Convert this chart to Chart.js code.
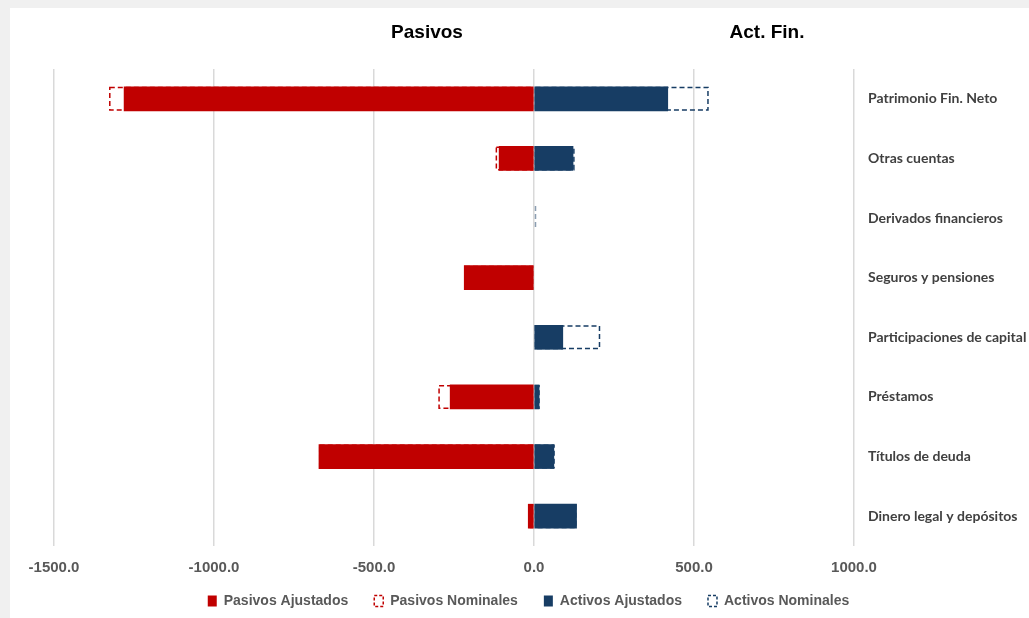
<!DOCTYPE html>
<html>
<head>
<meta charset="utf-8">
<script src="https://cdn.jsdelivr.net/npm/chart.js@4/dist/chart.umd.min.js"></script>
<style>
  html, body { margin: 0; padding: 0; background: #f0f0f0; width: 1029px; height: 618px; overflow: hidden; }
  #wrap { position: absolute; left: 10px; top: 8px; width: 1019px; height: 610px; background: #ffffff; }
  canvas { display: block; }
</style>
</head>
<body>
<div id="wrap"><canvas id="c" width="1019" height="610"></canvas></div>
<script>
const categories = ['Patrimonio Fin. Neto', 'Otras cuentas', 'Derivados financieros', 'Seguros y pensiones',
  'Participaciones de capital', 'Préstamos', 'Títulos de deuda', 'Dinero legal y depósitos'];
const pasivosAjustados = [-1281, -109, null, -218, null, -262, -672, -18];
const pasivosNominales = [-1328, -120, null, -218, null, -299, -672, -18];
const activosAjustados = [418, 122, null, null, 90, 16, 62, 133];
const activosNominales = [546, 127, 2, null, 207, 18, 65, 133];
const xTicks = [-1500, -1000, -500, 0, 500, 1000];
const panelTitles = ['Pasivos', 'Act. Fin.'];

const RED = '#c00000';
const NAVY = '#173d64';

// dashed outlines for the "nominal" datasets, drawn from the library's bar elements
const dashedOutline = {
  id: 'dashedOutline',
  afterDatasetDraw(chart, args) {
    const ds = chart.data.datasets[args.index];
    if (!ds.dashed) return;
    const ctx = chart.ctx;
    const lw = 1.5;
    ctx.save();
    ctx.strokeStyle = ds.dashColor;
    ctx.lineWidth = lw;
    ctx.setLineDash([5, 3]);
    args.meta.data.forEach((el, i) => {
      if (ds.data[i] === null) return;
      const p = el.getProps(['x', 'y', 'base', 'height'], true);
      const left = Math.min(p.x, p.base), w = Math.abs(p.x - p.base);
      const top = p.y - p.height / 2;
      if (w < 2 * lw) {
        ctx.globalAlpha = 0.5;
        ctx.beginPath();
        ctx.moveTo(left + w + lw / 2, top);
        ctx.lineTo(left + w + lw / 2, top + p.height);
        ctx.stroke();
        ctx.globalAlpha = 1;
        return;
      }
      ctx.strokeRect(left + lw / 2, top + lw / 2, w - lw, p.height - lw);
    });
    ctx.restore();
  }
};

const panelTitlePlugin = {
  id: 'panelTitles',
  afterLayout(chart) {
    // let x tick labels extend below the axis box (not clipped), shift legend to centre like reference
    const x = chart.scales.x;
    x.bottom += 24;
    if (chart.legend) { chart.legend.left -= 13; chart.legend.right -= 13; }
  },
  afterDraw(chart) {
    const ctx = chart.ctx;
    ctx.save();
    ctx.font = 'bold 19px "Liberation Sans", Arial, sans-serif';
    ctx.fillStyle = '#000000';
    ctx.textAlign = 'center';
    ctx.textBaseline = 'middle';
    ctx.fillText(panelTitles[0], 417, 25);
    ctx.fillText(panelTitles[1], 757, 25);
    ctx.restore();
  }
};

const chart = new Chart(document.getElementById('c'), {
  type: 'bar',
  data: {
    labels: categories,
    datasets: [
      { label: 'Pasivos Nominales', data: pasivosNominales, backgroundColor: 'rgba(0,0,0,0)', borderWidth: 0, order: 2, dashed: true, dashColor: RED },
      { label: 'Activos Nominales', data: activosNominales, backgroundColor: 'rgba(0,0,0,0)', borderWidth: 0, order: 2, dashed: true, dashColor: NAVY },
      { label: 'Pasivos Ajustados', data: pasivosAjustados, backgroundColor: RED, borderWidth: 0, order: 1 },
      { label: 'Activos Ajustados', data: activosAjustados, backgroundColor: NAVY, borderWidth: 0, order: 1 }
    ]
  },
  options: {
    indexAxis: 'y',
    responsive: false,
    animation: false,
    devicePixelRatio: 1,
    grouped: false,
    barThickness: 24,
    layout: { padding: { left: 44, top: 61, right: 0, bottom: 0 } },
    scales: {
      x: {
        type: 'linear',
        min: -1500, max: 1000,
        afterBuildTicks(s) { s.ticks = xTicks.map(v => ({ value: v })); },
        afterFit(s) {
          const lh = s.chart.legend ? s.chart.legend.height : 50;
          s.height = Math.max(10, s.chart.height - 538 - lh);
        },
        grid: { color: '#d9d9d9', lineWidth: 1.5, drawTicks: false },
        border: { display: false },
        ticks: {
          padding: 13,
          color: '#595959',
          font: { family: '"Liberation Sans", Arial, sans-serif', size: 15, weight: 'bold' },
          callback: (v) => Number(v).toFixed(1)
        }
      },
      y: {
        position: 'right',
        afterFit(s) { s.width = 175; },
        grid: { display: false, drawTicks: false },
        border: { display: false },
        ticks: {
          padding: 14,
          crossAlign: 'near',
          color: '#404040',
          font: { family: 'Lato, sans-serif', size: 14, weight: 'bold' }
        }
      }
    },
    plugins: {
      tooltip: { enabled: false },
      title: { display: false },
      legend: {
        position: 'bottom',
        labels: {
          boxWidth: 9,
          boxHeight: 11,
          padding: 26,
          color: '#595959',
          font: { family: '"Liberation Sans", Arial, sans-serif', size: 14, weight: 'bold' },
          generateLabels(chart) {
            const d = chart.data.datasets;
            return [
              { text: d[2].label, fillStyle: RED, strokeStyle: RED, lineWidth: 0, datasetIndex: 2, fontColor: '#595959' },
              { text: d[0].label, fillStyle: '#ffffff', strokeStyle: RED, lineWidth: 1.5, lineDash: [3, 2], datasetIndex: 0, fontColor: '#595959' },
              { text: d[3].label, fillStyle: NAVY, strokeStyle: NAVY, lineWidth: 0, datasetIndex: 3, fontColor: '#595959' },
              { text: d[1].label, fillStyle: '#ffffff', strokeStyle: NAVY, lineWidth: 1.5, lineDash: [3, 2], datasetIndex: 1, fontColor: '#595959' }
            ];
          }
        }
      }
    }
  },
  plugins: [dashedOutline, panelTitlePlugin]
});
</script>
</body>
</html>
